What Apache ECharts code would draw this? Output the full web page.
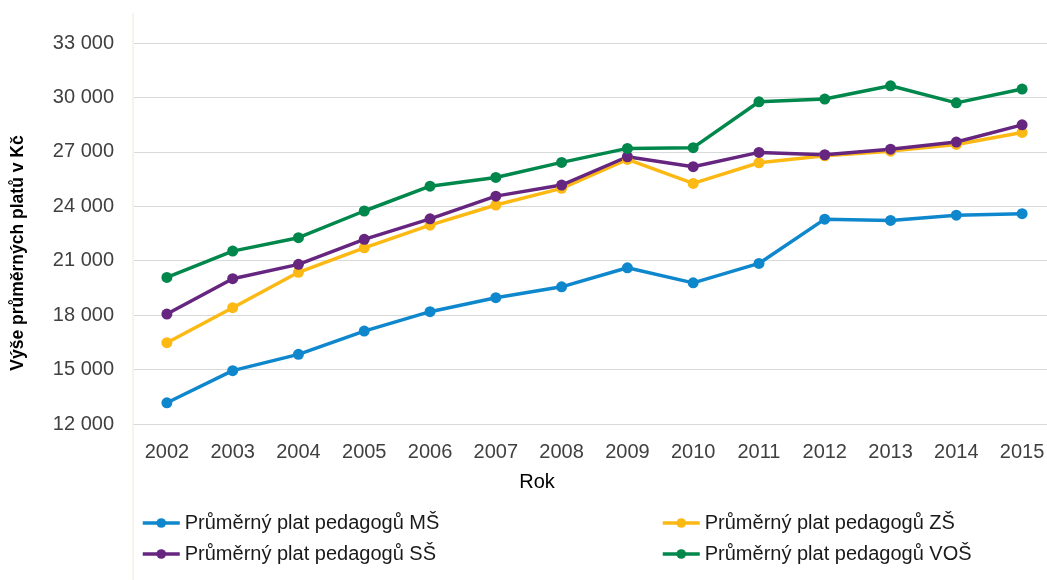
<!DOCTYPE html>
<html>
<head>
<meta charset="utf-8">
<script src="https://cdn.jsdelivr.net/npm/echarts@6/dist/echarts.min.js"></script>
<style>html,body{margin:0;padding:0;background:#fff}#c{width:1047px;height:580px}</style>
</head>
<body>
<div id="c"></div>
<script>
const years = ['2002','2003','2004','2005','2006','2007','2008','2009','2010','2011','2012','2013','2014','2015'];
const seriesNames = ['Průměrný plat pedagogů MŠ','Průměrný plat pedagogů ZŠ','Průměrný plat pedagogů SŠ','Průměrný plat pedagogů VOŠ'];
const platMS  = [13170,14940,15840,17120,18190,18960,19560,20610,19780,20850,23290,23220,23510,23590];
const platZS  = [16480,18410,20360,21710,22960,24070,24990,26580,25260,26400,26780,27040,27410,28070];
const platSS  = [18060,20010,20800,22180,23310,24560,25170,26730,26180,26970,26840,27150,27540,28490];
const platVOS = [20080,21530,22270,23740,25110,25590,26420,27190,27230,29760,29910,30640,29700,30460];
const yMin = 12000, yMax = 33000, yStep = 3000;
const xTitle = 'Rok';
const yTitle = 'Výše průměrných platů v Kč';

const colors = ['#0e87cd','#fdb913','#66267f','#00874c'];
const dataSets = [platMS, platZS, platSS, platVOS];
const FONT = '"Liberation Sans", Arial, sans-serif';

const chart = echarts.init(document.getElementById('c'), null, {renderer:'canvas'});

const legendPos = [[141,513],[661,513],[141,544],[661,544]];

const option = {
  animation: false,
  backgroundColor: '#ffffff',
  grid: { left: 134, width: 921, top: 43, bottom: 156, containLabel: false, outerBoundsMode: 'none' },
  xAxis: {
    type: 'category',
    data: years,
    boundaryGap: true,
    axisLine: { show: true, lineStyle: { color: '#d9d9d9', width: 1 } },
    axisTick: { show: false },
    axisLabel: { color: '#404040', fontSize: 20, fontFamily: FONT, margin: 18 },
    splitLine: { show: false }
  },
  yAxis: {
    type: 'value',
    min: yMin, max: yMax, interval: yStep,
    axisLine: { show: false },
    axisTick: { show: false },
    axisLabel: {
      color: '#404040', fontSize: 20, fontFamily: FONT, margin: 20,
      formatter: v => String(v).replace(/\B(?=(\d{3})+(?!\d))/g, ' ')
    },
    splitLine: { show: true, lineStyle: { color: '#d9d9d9', width: 1 } }
  },
  legend: seriesNames.map((n, i) => ({
    data: [n],
    left: legendPos[i][0], top: legendPos[i][1],
    itemWidth: 37, itemHeight: 12, itemGap: 5,
    lineStyle: { width: 3.5 },
    textStyle: { color: '#1a1a1a', fontSize: 20, fontFamily: FONT },
    padding: 0
  })),
  series: seriesNames.map((n, i) => ({
    name: n,
    type: 'line',
    data: dataSets[i],
    symbol: 'circle',
    symbolSize: 11,
    lineStyle: { width: 3.5, color: colors[i] },
    itemStyle: { color: colors[i] },
    emphasis: { disabled: true }
  })),
  graphic: [
    { type: 'line', shape: { x1: 133, y1: 13, x2: 133, y2: 580 }, style: { stroke: '#eee8d8', lineWidth: 1 }, z: 0 },
    { type: 'text', x: 18, y: 253, rotation: Math.PI / 2,
      style: { text: yTitle, fill: '#000', font: 'bold 17.5px ' + FONT, align: 'center', verticalAlign: 'middle' } },
    { type: 'text', x: 537, y: 482,
      style: { text: xTitle, fill: '#000', font: '20px ' + FONT, align: 'center', verticalAlign: 'middle' } }
  ]
};
chart.setOption(option);
</script>
</body>
</html>
